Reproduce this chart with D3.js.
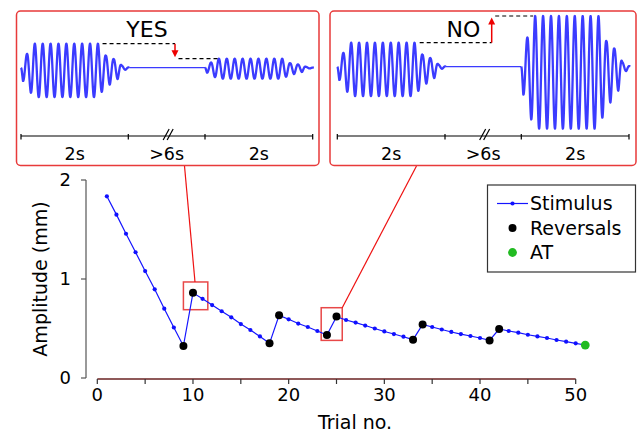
<!DOCTYPE html>
<html>
<head>
<meta charset="utf-8">
<script src="https://cdn.jsdelivr.net/npm/d3@7"></script>
<style>
  body { margin: 0; background: #fff; }
  svg { font-family: "DejaVu Sans", Verdana, sans-serif; }
</style>
</head>
<body>
<div id="chart"></div>
<script>
// staircase data
var trials = d3.range(1, 52);
var amplitude = [1.835, 1.65, 1.457, 1.27, 1.08, 0.896, 0.70, 0.51, 0.323,
    0.86, 0.80, 0.737, 0.674, 0.613, 0.545, 0.485, 0.42, 0.35,
    0.633, 0.593, 0.55, 0.515, 0.475, 0.434,
    0.62, 0.586, 0.56, 0.53, 0.50, 0.47, 0.444, 0.417, 0.387,
    0.54, 0.515, 0.49, 0.465, 0.444, 0.424, 0.404, 0.38,
    0.495, 0.475, 0.458, 0.437, 0.42, 0.404, 0.384, 0.367, 0.35, 0.333];
var reversalTrials = [9, 10, 18, 19, 24, 25, 33, 34, 41, 42];
var atTrial = 51;
var xTicks = [0, 10, 20, 30, 40, 50];
var xMinorTicks = [0, 5, 10, 15, 20, 25, 30, 35, 40, 45, 50];
var yTicks = [0, 1, 2];
var legendLabels = ["Stimulus", "Reversals", "AT"];

// inset panels: relative amplitude of the two bursts, answer text, time labels
var insetAnswers = ["YES", "NO"];
var insetBurstAmps = [[1, 0.375], [1, 2.11]];
var insetSegLabels = ["2s", ">6s", "2s"];
// envelope of one burst (cycle no. -> relative amplitude)
var envCycles = [0, 0.25, 0.75, 1.25, 1.75, 9.75, 10.25, 10.75, 11.25, 11.75, 12.25, 12.75, 13.25, 13.75];
var envValues = [0, 0.45, 0.57, 0.85, 1, 1, 0.82, 0.5, 0.58, 0.355, 0.39, 0.09, 0.07, 0];
var waveOffset = 0.1; // oscillation sits a little below the baseline

var svg = d3.select("#chart").append("svg")
    .attr("width", 638)
    .attr("height", 434);

/***** main chart *****/
var x = d3.scaleLinear().domain([0, 50]).range([97.3, 575.7]);
var y = d3.scaleLinear().domain([0, 2]).range([378, 180]);

// y spine
svg.append("line")
    .attr("x1", 86).attr("x2", 86)
    .attr("y1", y(2)).attr("y2", y(0))
    .style("stroke", "#555").style("stroke-width", 1.2);
yTicks.forEach(function(t) {
    svg.append("line")
        .attr("x1", 81).attr("x2", 86)
        .attr("y1", y(t)).attr("y2", y(t))
        .style("stroke", "#555").style("stroke-width", 1.2);
    svg.append("text")
        .attr("x", 71).attr("y", y(t)).attr("dy", "0.36em")
        .attr("text-anchor", "end")
        .style("font-size", "18px")
        .text(t);
});

// x axis
svg.append("line")
    .attr("x1", x(0)).attr("x2", x(50))
    .attr("y1", 379).attr("y2", 379)
    .style("stroke", "#6a2222").style("stroke-width", 1.5);
xMinorTicks.forEach(function(t) {
    svg.append("line")
        .attr("x1", x(t)).attr("x2", x(t))
        .attr("y1", 379).attr("y2", 384)
        .style("stroke", "#333").style("stroke-width", 1.2);
});
xTicks.forEach(function(t) {
    svg.append("text")
        .attr("x", x(t)).attr("y", 401)
        .attr("text-anchor", "middle")
        .style("font-size", "18px")
        .text(t);
});

svg.append("text")
    .attr("x", 355).attr("y", 429)
    .attr("text-anchor", "middle")
    .style("font-size", "19px")
    .text("Trial no.");
svg.append("text")
    .attr("transform", "translate(47,279) rotate(-90)")
    .attr("text-anchor", "middle")
    .style("font-size", "19px")
    .text("Amplitude (mm)");

// callout boxes + connector lines
var box1 = {x0: 9.0, x1: 11.55, y0: 0.69, y1: 0.97};
var box2 = {x0: 23.4, x1: 25.6, y0: 0.38, y1: 0.71};
[box1, box2].forEach(function(b) {
    svg.append("rect")
        .attr("x", x(b.x0)).attr("y", y(b.y1))
        .attr("width", x(b.x1) - x(b.x0))
        .attr("height", y(b.y0) - y(b.y1))
        .style("fill", "none").style("stroke", "#e84848").style("stroke-width", 1.5);
});
svg.append("line")
    .attr("x1", 184.5).attr("y1", 166)
    .attr("x2", 195).attr("y2", y(box1.y1))
    .style("stroke", "#ee1111").style("stroke-width", 1.2);
svg.append("line")
    .attr("x1", 416.5).attr("y1", 166)
    .attr("x2", x(box2.x1)).attr("y2", y(box2.y1))
    .style("stroke", "#ee1111").style("stroke-width", 1.2);

// stimulus line
var pts = trials.map(function(t, i) { return [t, amplitude[i]]; });
var line = d3.line()
    .x(function(d) { return x(d[0]); })
    .y(function(d) { return y(d[1]); });
svg.append("path")
    .datum(pts)
    .attr("d", line)
    .style("fill", "none").style("stroke", "#1515ff").style("stroke-width", 1.2);
svg.selectAll(".stim").data(pts).enter().append("circle")
    .attr("cx", function(d) { return x(d[0]); })
    .attr("cy", function(d) { return y(d[1]); })
    .attr("r", 2.1)
    .style("fill", "#1010ff");
svg.selectAll(".rev").data(reversalTrials).enter().append("circle")
    .attr("cx", function(t) { return x(t); })
    .attr("cy", function(t) { return y(amplitude[t - 1]); })
    .attr("r", 4)
    .style("fill", "#000");
svg.append("circle")
    .attr("cx", x(atTrial)).attr("cy", y(amplitude[atTrial - 1]))
    .attr("r", 4.4)
    .style("fill", "#22bb22");

/***** legend *****/
svg.append("rect")
    .attr("x", 487.5).attr("y", 185)
    .attr("width", 148).attr("height", 87)
    .style("fill", "#fff").style("stroke", "#333").style("stroke-width", 1.2);
svg.append("line")
    .attr("x1", 497).attr("x2", 528)
    .attr("y1", 203.5).attr("y2", 203.5)
    .style("stroke", "#1515ff").style("stroke-width", 1.2);
svg.append("circle").attr("cx", 512.5).attr("cy", 203.5).attr("r", 2.1).style("fill", "#1010ff");
svg.append("circle").attr("cx", 512.5).attr("cy", 228).attr("r", 4).style("fill", "#000");
svg.append("circle").attr("cx", 512.5).attr("cy", 252.5).attr("r", 4.4).style("fill", "#22bb22");
legendLabels.forEach(function(l, i) {
    svg.append("text")
        .attr("x", 530).attr("y", 210 + i * 24.5)
        .style("font-size", "19px")
        .text(l);
});

/***** insets *****/
var insets = [
    {left: 16.5, right: 319, ticks: [21, 128.3, 205, 312.7], center: 67.7, textX: 147, arrowX: 175},
    {left: 330, right: 636, ticks: [337.3, 445, 521.3, 629], center: 66.7, textX: 463.5, arrowX: 491.7}
];
var envScale = d3.scaleLinear().domain(envCycles).range(envValues).clamp(true);
var cyclesPerSeg = 13.6;
var burstCycles = 13.75;

insets.forEach(function(ins, k) {
    var g = svg.append("g");
    var tx = d3.scaleLinear().domain([0, 1, 2, 3]).range(ins.ticks);
    var ty = d3.scaleLinear().domain([-1, 1]).range([ins.center + 26.7, ins.center - 26.7]);

    g.append("rect")
        .attr("x", ins.left).attr("y", 11)
        .attr("width", ins.right - ins.left).attr("height", 154.5)
        .attr("rx", 4).attr("ry", 4)
        .style("fill", "#fff").style("stroke", "#e83a3a").style("stroke-width", 1.5);

    // two bursts
    var burstStarts = [0, 2];
    var ends = [];
    burstStarts.forEach(function(s, b) {
        var amp = insetBurstAmps[k][b];
        var n = 700;
        var wave = d3.range(n + 1).map(function(i) {
            var c = burstCycles * i / n;
            var v = (-Math.sin(2 * Math.PI * c) - waveOffset) * envScale(c) * amp;
            return [s + c / cyclesPerSeg, v];
        });
        ends.push(s + burstCycles / cyclesPerSeg);
        g.append("path")
            .datum(wave)
            .attr("d", d3.line()
                .x(function(d) { return tx(d[0]); })
                .y(function(d) { return ty(d[1]); }))
            .style("fill", "none").style("stroke", "#3b3bff").style("stroke-width", 2.3)
            .style("stroke-linejoin", "round");
    });
    // silent gap
    g.append("line")
        .attr("x1", tx(ends[0])).attr("x2", tx(2))
        .attr("y1", ty(0)).attr("y2", ty(0))
        .style("stroke", "#3b3bff").style("stroke-width", 1.2);

    // time axis
    g.append("line")
        .attr("x1", tx(0)).attr("x2", tx(3))
        .attr("y1", 136).attr("y2", 136)
        .style("stroke", "#000").style("stroke-width", 1.2);
    [0, 1, 2, 3].forEach(function(t) {
        g.append("line")
            .attr("x1", tx(t)).attr("x2", tx(t))
            .attr("y1", 134).attr("y2", 139.5)
            .style("stroke", "#000").style("stroke-width", 1.2);
    });
    var bx = (tx(1) + tx(2)) / 2 + 1.5;
    [-2, 2].forEach(function(o) {
        g.append("line")
            .attr("x1", bx + o - 3).attr("y1", 140)
            .attr("x2", bx + o + 3).attr("y2", 129)
            .style("stroke", "#000").style("stroke-width", 1.2);
    });
    insetSegLabels.forEach(function(l, i) {
        g.append("text")
            .attr("x", tx(i + 0.5)).attr("y", 160)
            .attr("text-anchor", "middle")
            .style("font-size", "17.5px")
            .text(l);
    });

    // answer, dashed levels (top of each burst) and red arrow
    var yA = ty(insetBurstAmps[k][0] * (1 - waveOffset));
    var yB = ty(insetBurstAmps[k][1] * (1 - waveOffset));
    g.append("text")
        .attr("x", ins.textX).attr("y", 37)
        .attr("text-anchor", "middle")
        .style("font-size", "22px")
        .text(insetAnswers[k]);
    var dashA0 = k == 0 ? tx(0.76) : tx(0.765);
    var dashB1 = k == 0 ? tx(2.12) : tx(2.11);
    g.append("line")
        .attr("x1", dashA0).attr("x2", ins.arrowX)
        .attr("y1", yA).attr("y2", yA)
        .style("stroke", "#000").style("stroke-width", 1.2).style("stroke-dasharray", "4,3");
    g.append("line")
        .attr("x1", ins.arrowX + 3.5).attr("x2", dashB1)
        .attr("y1", yB).attr("y2", yB)
        .style("stroke", "#000").style("stroke-width", 1.2).style("stroke-dasharray", "4,3");
    var dir = yB > yA ? 1 : -1;
    var tip = yB - dir * 1.5;
    g.append("line")
        .attr("x1", ins.arrowX).attr("x2", ins.arrowX)
        .attr("y1", yA).attr("y2", tip - dir * 6)
        .style("stroke", "#ee0000").style("stroke-width", 1.5);
    g.append("path")
        .attr("d", "M" + (ins.arrowX - 3.5) + "," + (tip - dir * 7) +
            "L" + (ins.arrowX + 3.5) + "," + (tip - dir * 7) +
            "L" + ins.arrowX + "," + tip + "Z")
        .style("fill", "#ee0000");
});
</script>
</body>
</html>
